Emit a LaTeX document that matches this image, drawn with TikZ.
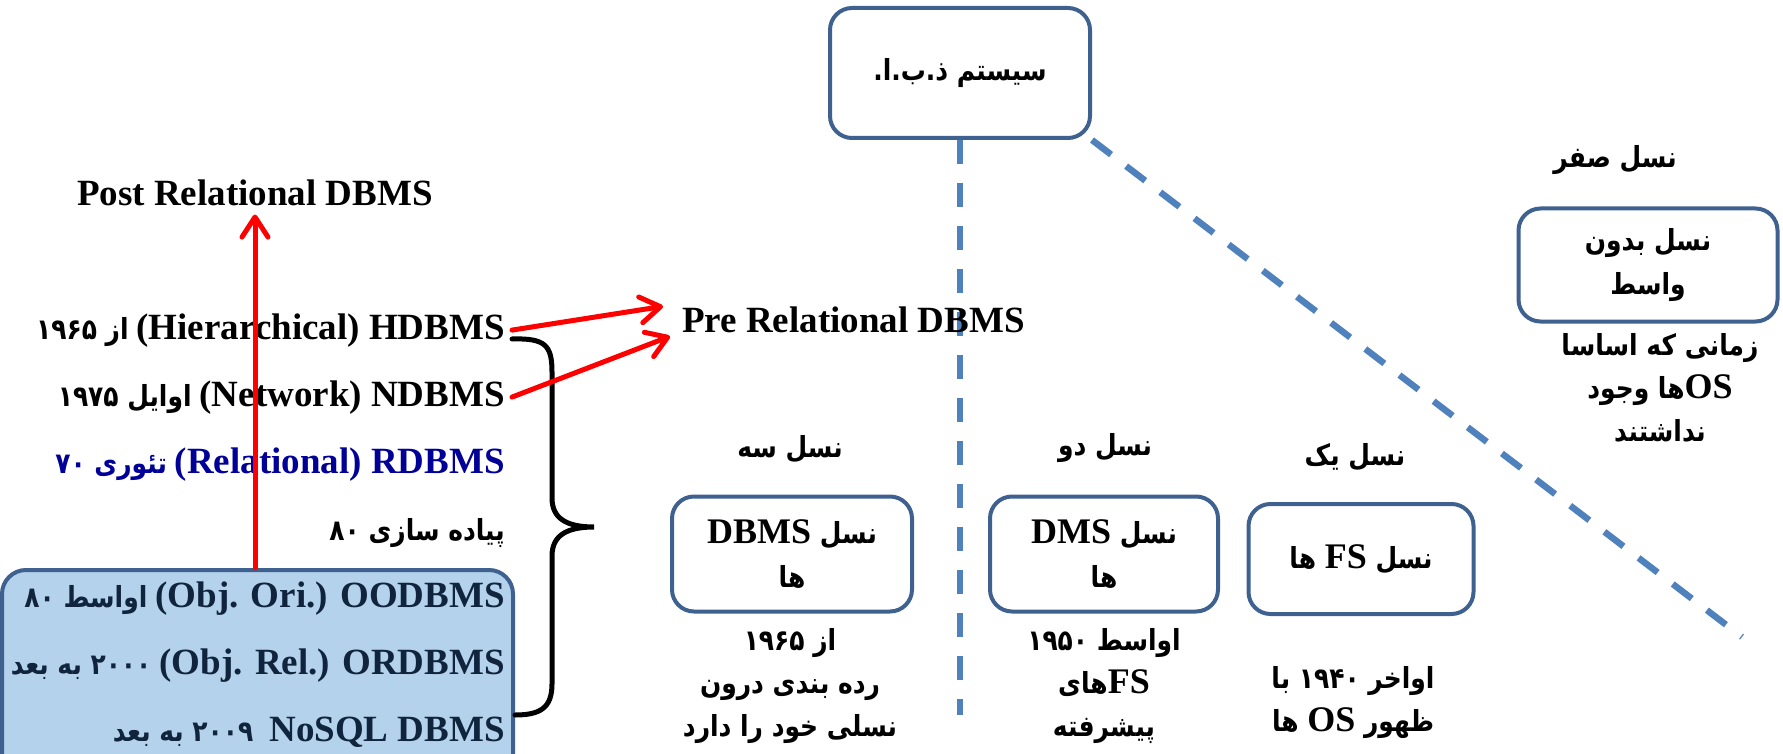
\documentclass[tikz,border=0pt]{standalone}
\usepackage{fontspec}
\setmainfont{Liberation Serif}
\newfontfamily\fa[Script=Arabic, FakeStretch=0.86]{DejaVu Sans}
\TeXXeTstate=1
\usetikzlibrary{arrows.meta}

\definecolor{boxedge}{HTML}{3E6190}
\definecolor{dashblue}{HTML}{4F81BD}
\definecolor{objfill}{HTML}{B4D2EB}
\definecolor{navy}{HTML}{10243E}
\definecolor{relblue}{HTML}{000099}

% right-to-left run and a bold Latin word set in Times metrics
\newcommand{\rl}[1]{\beginR#1\endR}
\newcommand{\lat}[1]{{\rmfamily\bfseries\fontsize{36}{40}\selectfont #1}}
\newcommand{\latrow}[1]{{\rmfamily\bfseries\fontsize{37}{40}\selectfont #1}}

\tikzset{
  genbox/.style={draw=boxedge, line width=4pt, rounded corners=22pt, inner sep=0pt,
    align=center, font=\fa\bfseries\fontsize{29}{44}\selectfont},
  falabel/.style={inner sep=0pt, align=center, font=\fa\bfseries\fontsize{29}{43}\selectfont},
  rowtext/.style={inner sep=0pt, anchor=base east, font=\fa\bfseries\fontsize{29}{30}\selectfont},
  latlabel/.style={inner sep=0pt, anchor=base west, font=\rmfamily\bfseries\fontsize{37}{40}\selectfont},
  sepline/.style={dashblue, line width=6.5pt, dash pattern=on 24pt off 19pt},
  redarrow/.style={red, line width=5pt, line cap=round,
    -{Straight Barb[length=20pt, width=26pt, round]}},
  bracestroke/.style={black, line width=5pt, line cap=round},
}

\begin{document}
\begin{tikzpicture}[x=1pt, y=-1pt]
\useasboundingbox (0,0) rectangle (1783,754);
\begin{scope}
\clip (0,0) rectangle (1783,754);

% ---- main system box and the two separators
\node[genbox, minimum width=260pt, minimum height=130pt] (top) at (960,73) {\rl{سیستم ذ.ب.ا.}};
\coordinate (vend) at (960,715);
\coordinate (dend) at (1742,637);
\draw[sepline] (top.south) -- (vend);
\draw[sepline] (top.south east) -- (dend);

% ---- generation zero
\node[falabel] (g0) at (1615,160) {\rl{نسل صفر}};
\node[genbox, minimum width=259pt, minimum height=113pt] (g0box) at (1648,265)
  {\rl{نسل بدون}\\\rl{واسط}};
\node[falabel] (g0desc) at (1660,388)
  {\rl{زمانی که اساسا}\\\rl{\lat{OS}ها وجود}\\\rl{نداشتند}};

% ---- generation one
\node[falabel] (g1) at (1355,457) {\rl{نسل یک}};
\node[genbox, minimum width=225pt, minimum height=110pt] (g1box) at (1361,559)
  {\rl{نسل \lat{FS} ها}};
\node[falabel] (g1desc) at (1353,703) {\rl{اواخر ۱۹۴۰ با}\\\rl{ظهور \lat{OS} ها}};

% ---- generation two
\node[falabel] (g2) at (1105,448) {\rl{نسل دو}};
\node[genbox, minimum width=228pt, minimum height=115pt] (g2box) at (1104,554)
  {\rl{نسل \lat{DMS}}\\\rl{ها}};
\node[falabel] (g2desc) at (1104,686) {\rl{اواسط ۱۹۵۰}\\\rl{\lat{FS}های}\\\rl{پیشرفته}};

% ---- generation three
\node[falabel] (g3) at (790,449) {\rl{نسل سه}};
\node[genbox, minimum width=240pt, minimum height=115pt] (g3box) at (792,554)
  {\rl{نسل \lat{DBMS}}\\\rl{ها}};
\node[falabel] (g3desc) at (790,686) {\rl{از ۱۹۶۵}\\\rl{رده بندی درون}\\\rl{نسلی خود را دارد}};

% ---- models, left column
\node[latlabel] (post) at (77,206) {Post Relational DBMS};
\node[latlabel] (pre) at (682,332) {Pre Relational DBMS};

\node[draw=boxedge, fill=objfill, line width=4pt, rounded corners=24pt,
      minimum width=511pt, minimum height=240pt, inner sep=0pt] (objbox) at (257.5,690) {};

\node[rowtext] (hrow) at (505,339) {\rl{از  ۱۹۶۵}\hspace{8pt}\latrow{(Hierarchical) HDBMS}};
\node[rowtext] (nrow) at (505,406) {\rl{اوایل ۱۹۷۵}\hspace{8pt}\latrow{(Network) NDBMS}};
\node[rowtext, text=relblue] (rrow) at (505,473) {\rl{تئوری ۷۰}\hspace{8pt}\latrow{(Relational) RDBMS}};
\node[rowtext] (irow) at (505,540) {\rl{پیاده سازی ۸۰}};
\node[rowtext, text=navy] (oorow) at (505,607) {\rl{اواسط ۸۰}\hspace{8pt}\latrow{(Obj. Ori.) OODBMS}};
\node[rowtext, text=navy] (orrow) at (505,674) {\rl{۲۰۰۰ به بعد}\hspace{8pt}\latrow{(Obj. Rel.) ORDBMS}};
\node[rowtext, text=navy] (nsrow) at (505,741) {\rl{۲۰۰۹ به بعد}\hspace{16pt}\latrow{NoSQL DBMS}};

% brace grouping the database models
\draw[bracestroke] ([xshift=7pt]hrow.base east)
  .. controls (545,338) and (552,345) .. (552,372) -- (552,498)
  .. controls (552,518) and (566,527) .. (594,527)
  .. controls (566,527) and (552,536) .. (552,556) -- (552,684)
  .. controls (552,708) and (540,715) .. (515,715);

% arrows
\draw[redarrow] ([xshift=7pt]hrow.east) -- ([xshift=-19pt,yshift=13pt]pre.west);
\draw[redarrow] ([xshift=7pt]nrow.east) -- ([xshift=-12pt,yshift=-17pt]pre.west);
\draw[redarrow] (objbox.north -| post.south) -- ([yshift=-8pt]post.south);
\end{scope}
\end{tikzpicture}
\end{document}
